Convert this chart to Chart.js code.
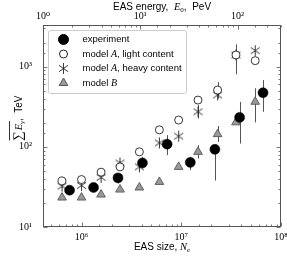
<!DOCTYPE html>
<html>
<head>
<meta charset="utf-8">
<script src="https://cdn.jsdelivr.net/npm/chart.js@4.4.0/dist/chart.umd.min.js"></script>
<style>
  html, body { margin: 0; padding: 0; background: #fff; }
</style>
</head>
<body>
<canvas id="chart" width="287" height="256"></canvas>
<script>
// EAS size (N_e) for the measured points and for the model points
const expSize = [7.59e5, 1.32e6, 2.32e6, 4.08e6, 7.21e6, 1.23e7, 2.17e7, 3.84e7, 6.59e7];
const modelSize = [6.38e5, 1.0e6, 1.57e6, 2.43e6, 3.8e6, 6.03e6, 9.4e6, 1.47e7, 2.31e7, 3.53e7, 5.5e7];

// summed gamma energy, TeV
const expEnergy = [28.8, 31.1, 41, 63, 108, 64, 93, 233, 473];
const expLow    = [27, 29.5, 35, 54, 79, 51, 38, 110, 274];
const expHigh   = [30.5, 33, 46.5, 75, 140, 75, 100, 363, 682];

const lightEnergy = [37.6, 39.1, 48.3, 56.2, 86.6, 163, 216, 383, 511, 1400, 1189];
const lightLow    = [null, null, null, null, null, null, null, null, 400, 804, null];
const lightHigh   = [null, null, null, null, null, null, null, null, 646, 1900, null];

const heavyEnergy = [32.3, 32.9, 41.5, 63, 56.2, 112, 136, 274, 443, 1400, 1585];
const heavyLow    = [null, null, null, null, null, null, null, 226, null, null, null];
const heavyHigh   = [null, null, null, null, null, null, null, 331, null, null, null];

const modelBEnergy = [23.3, 23.3, 25.4, 29.3, 31.1, 36.5, 56.2, 86.6, 144, 202, 365];
const modelBLow    = [null, null, null, null, null, null, null, 71.6, 115, null, 202];
const modelBHigh   = [null, null, null, null, null, null, null, 105, 182, null, 537];

// tick labels
const sizeTicks = [1e6, 1e7, 1e8];
const sizeTickLabels = ['10⁶', '10⁷', '10⁸'];
const energyTicks = [1, 10, 100];
const energyTickLabels = ['10⁰', '10¹', '10²'];
const sumTicks = [10, 100, 1000];
const sumTickLabels = ['10¹', '10²', '10³'];

const seriesNames = ['experiment', 'model A, light content', 'model A, heavy content', 'model B'];

function pts(xs, ys) {
  return xs.map((x, i) => ({ x: x, y: ys[i] }));
}

function tickLabel(vals, labels) {
  return function(value) {
    for (let i = 0; i < vals.length; i++) {
      if (Math.abs(value / vals[i] - 1) < 1e-6) return labels[i];
    }
    return '';
  };
}

// six-armed asterisk marker
function makeAsterisk() {
  const c = document.createElement('canvas');
  c.width = 13; c.height = 13;
  const g = c.getContext('2d');
  g.strokeStyle = '#222';
  g.lineWidth = 0.9;
  g.translate(6.5, 6.5);
  [90, 35, 145].forEach(a => {
    const r = a * Math.PI / 180;
    g.beginPath();
    g.moveTo(-5.5 * Math.cos(r), -5.5 * Math.sin(r));
    g.lineTo(5.5 * Math.cos(r), 5.5 * Math.sin(r));
    g.stroke();
  });
  return c;
}
const asterisk = makeAsterisk();

const errorBars = [
  { ds: 0, lo: expLow, hi: expHigh },
  { ds: 1, lo: lightLow, hi: lightHigh },
  { ds: 2, lo: heavyLow, hi: heavyHigh },
  { ds: 3, lo: modelBLow, hi: modelBHigh }
];

const errorBarPlugin = {
  id: 'errorBars',
  beforeDatasetsDraw(chart) {
    const ctx = chart.ctx;
    const xs = chart.scales.x, ys = chart.scales.y;
    ctx.save();
    ctx.strokeStyle = '#555';
    ctx.lineWidth = 1;
    errorBars.forEach(eb => {
      const data = chart.data.datasets[eb.ds].data;
      data.forEach((p, i) => {
        if (eb.lo[i] == null) return;
        const px = Math.round(xs.getPixelForValue(p.x)) + 0.5;
        ctx.beginPath();
        ctx.moveTo(px, ys.getPixelForValue(eb.lo[i]));
        ctx.lineTo(px, ys.getPixelForValue(eb.hi[i]));
        ctx.stroke();
      });
    });
    ctx.restore();
  }
};

// frame and inward tick marks
const framePlugin = {
  id: 'frame',
  afterDatasetsDraw(chart) {
    const ctx = chart.ctx;
    const a = chart.chartArea;
    const L = Math.round(a.left) + 0.5, R = Math.round(a.right) - 0.5;
    const T = Math.round(a.top) + 0.5, B = Math.round(a.bottom) - 0.5;
    ctx.save();
    ctx.strokeStyle = '#555';
    ctx.lineWidth = 1;
    ctx.strokeRect(L, T, R - L, B - T);
    ctx.lineWidth = 0.8;
    const isMajor = v => Math.abs(Math.log10(v) - Math.round(Math.log10(v))) < 1e-6;
    const mark = (scale, horiz, edges) => {
      scale.ticks.forEach(t => {
        const v = t.value;
        if (v < scale.min || v > scale.max) return;
        const p = Math.round(scale.getPixelForValue(v)) + 0.5;
        const len = isMajor(v) ? 4 : 2;
        edges.forEach(e => {
          ctx.beginPath();
          if (horiz) { ctx.moveTo(p, e.at); ctx.lineTo(p, e.at + e.dir * len); }
          else { ctx.moveTo(e.at, p); ctx.lineTo(e.at + e.dir * len, p); }
          ctx.stroke();
        });
      });
    };
    mark(chart.scales.x, true, [{ at: B, dir: -1 }]);
    mark(chart.scales.xTop, true, [{ at: T, dir: 1 }]);
    mark(chart.scales.y, false, [{ at: L, dir: 1 }, { at: R, dir: -1 }]);
    ctx.restore();
  }
};

// write a run of text pieces with different fonts
function richText(ctx, parts, x, y, align) {
  let w = 0;
  parts.forEach(p => { ctx.font = p.font; w += ctx.measureText(p.t).width + (p.gap || 0); });
  let cx = align === 'center' ? x - w / 2 : x;
  const spans = [];
  parts.forEach(p => {
    ctx.font = p.font;
    ctx.fillText(p.t, cx, y + (p.dy || 0));
    const pw = ctx.measureText(p.t).width;
    spans.push([cx, cx + pw]);
    cx += pw + (p.gap || 0);
  });
  return spans;
}

const SANS = '"Liberation Sans", Arial, sans-serif';
const SERIF = '"Liberation Serif", "DejaVu Serif", serif';

const titlesPlugin = {
  id: 'titles',
  afterDraw(chart) {
    const ctx = chart.ctx;
    const a = chart.chartArea;
    const cx = (a.left + a.right) / 2;
    ctx.save();
    ctx.fillStyle = '#000';
    ctx.textBaseline = 'alphabetic';
    richText(ctx, [
      { t: 'EAS energy,  ', font: '10px ' + SANS },
      { t: 'E', font: 'italic 10.5px ' + SERIF },
      { t: '0', font: '7px ' + SERIF, dy: 2 },
      { t: ',  PeV', font: '10px ' + SANS }
    ], cx, 9.5, 'center');
    richText(ctx, [
      { t: 'EAS size, ', font: '10px ' + SANS },
      { t: 'N', font: 'italic 10.5px ' + SERIF },
      { t: 'e', font: 'italic 7px ' + SERIF, dy: 2 }
    ], cx, 250, 'center');
    // y title, rotated
    ctx.translate(22, (a.top + a.bottom) / 2 - 8);
    ctx.rotate(-Math.PI / 2);
    const spans = richText(ctx, [
      { t: '∑', font: '13px ' + SERIF, gap: 1 },
      { t: 'E', font: 'italic 10.5px ' + SERIF },
      { t: 'γ', font: 'italic 7px ' + SERIF, dy: 2 },
      { t: ',  TeV', font: '10px ' + SANS }
    ], 0, 0, 'center');
    ctx.strokeStyle = '#000';
    ctx.lineWidth = 0.8;
    ctx.beginPath();
    ctx.moveTo(spans[0][0], -12.5);
    ctx.lineTo(spans[2][1], -12.5);
    ctx.stroke();
    ctx.restore();
  }
};

const legendPlugin = {
  id: 'boxLegend',
  afterDraw(chart) {
    const ctx = chart.ctx;
    const x0 = 48.5, y0 = 30.5, w = 138, h = 63;
    ctx.save();
    ctx.fillStyle = 'rgba(255,255,255,0.9)';
    ctx.strokeStyle = '#cccccc';
    ctx.lineWidth = 1;
    ctx.beginPath();
    ctx.roundRect(x0, y0, w, h, 2);
    ctx.fill();
    ctx.stroke();
    const rows = [39.5, 54, 68.5, 83];
    const mx = 63.5, tx = 82.5;
    chart.data.datasets.forEach((ds, i) => {
      const y = rows[i];
      ctx.fillStyle = ds.backgroundColor;
      ctx.strokeStyle = ds.borderColor;
      Chart.helpers.drawPoint(ctx, {
        pointStyle: ds.pointStyle, radius: ds.pointRadius, rotation: 0, borderWidth: ds.borderWidth
      }, mx, y);
      ctx.fillStyle = '#000';
      ctx.textBaseline = 'middle';
      const name = seriesNames[i];
      const m = name.match(/^model (A|B)(.*)$/);
      if (m) {
        richText(ctx, [
          { t: 'model ', font: '9.5px ' + SANS },
          { t: m[1], font: 'italic 10px ' + SERIF },
          { t: m[2], font: '9.5px ' + SANS }
        ], tx, y, 'left');
      } else {
        richText(ctx, [{ t: name, font: '9.5px ' + SANS }], tx, y, 'left');
      }
    });
    ctx.restore();
  }
};

const tickFont = { family: '"Liberation Serif", "DejaVu Serif", serif', size: 10 };

new Chart(document.getElementById('chart'), {
  type: 'scatter',
  data: {
    datasets: [
      {
        label: seriesNames[0], data: pts(expSize, expEnergy),
        pointStyle: 'circle', pointRadius: 5, backgroundColor: '#000', borderColor: '#000', borderWidth: 0.5
      },
      {
        label: seriesNames[1], data: pts(modelSize, lightEnergy),
        pointStyle: 'circle', pointRadius: 4, backgroundColor: '#fff', borderColor: '#222', borderWidth: 0.9
      },
      {
        label: seriesNames[2], data: pts(modelSize, heavyEnergy),
        pointStyle: asterisk, pointRadius: 5, backgroundColor: '#fff', borderColor: '#222', borderWidth: 0.9
      },
      {
        label: seriesNames[3], data: pts(modelSize, modelBEnergy),
        pointStyle: 'triangle', pointRadius: 5, backgroundColor: '#999', borderColor: '#555', borderWidth: 0.9
      }
    ]
  },
  options: {
    responsive: false,
    animation: false,
    devicePixelRatio: 1,
    layout: { padding: { left: 0, right: 4, top: 0, bottom: 0 } },
    plugins: { legend: { display: false }, tooltip: { enabled: false } },
    scales: {
      x: {
        type: 'logarithmic', position: 'bottom',
        min: Math.pow(10, 5.614), max: 1e8,
        grid: { display: false }, border: { display: false },
        ticks: { autoSkip: false, maxRotation: 0, padding: -4, color: '#000', font: tickFont,
                 callback: tickLabel(sizeTicks, sizeTickLabels) },
        afterFit(s) { s.height = 29; }
      },
      xTop: {
        type: 'logarithmic', position: 'top',
        min: 1, max: Math.pow(10, 2.447),
        grid: { display: false }, border: { display: false },
        ticks: { autoSkip: false, maxRotation: 0, padding: -5, color: '#000', font: tickFont,
                 callback: tickLabel(energyTicks, energyTickLabels) },
        afterFit(s) { s.height = 25; }
      },
      y: {
        type: 'logarithmic', position: 'left',
        min: 10, max: Math.pow(10, 3.52),
        grid: { display: false }, border: { display: false },
        ticks: { autoSkip: false, padding: 3, color: '#000', font: tickFont,
                 callback: tickLabel(sumTicks, sumTickLabels) },
        afterFit(s) { s.width = 43; }
      }
    }
  },
  plugins: [errorBarPlugin, framePlugin, legendPlugin, titlesPlugin]
});
</script>
</body>
</html>
